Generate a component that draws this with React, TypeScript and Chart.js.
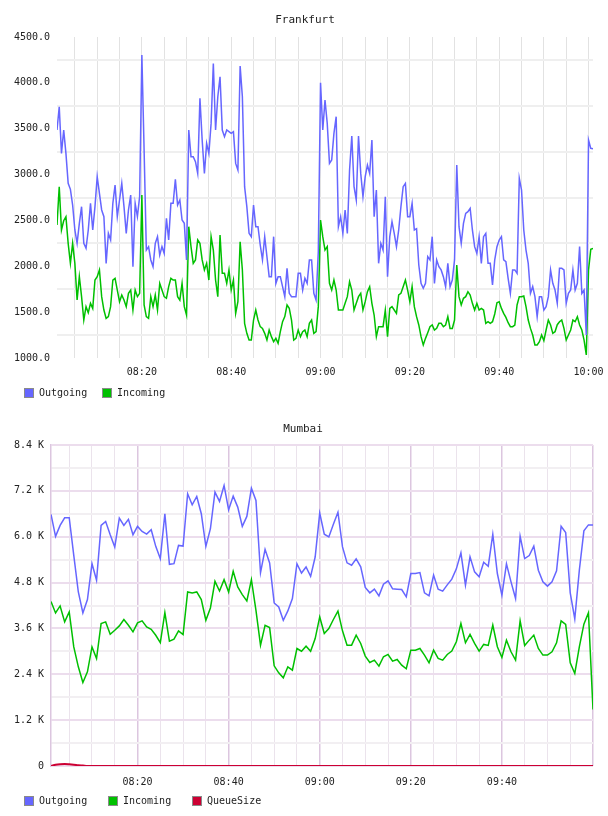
import React, { useEffect, useRef } from 'react';
import { Chart, registerables } from 'chart.js';

Chart.register(...registerables);

// Time axis is in minutes after 08:00.
const FRA_START_MIN = 1;
const FRA_STEP_MIN = 0.5;

// Frankfurt, sampled every 30 s from 08:01 to 10:01
const FRA_OUT = [
  3486, 3740, 3231, 3486, 3231, 2904, 2839, 2668, 2396, 2250,
  2468, 2650, 2250, 2196, 2396, 2686, 2396, 2650, 2977, 2795,
  2614, 2541, 2032, 2359, 2287, 2686, 2886, 2541, 2723, 2904,
  2650, 2359, 2614, 2777, 1996, 2686, 2541, 2759, 4303, 3268,
  2177, 2214, 2069, 1996, 2250, 2323, 2123, 2214, 2141, 2523,
  2287, 2686, 2686, 2948, 2668, 2723, 2505, 2468, 2069, 3486,
  3195, 3195, 3140, 3013, 3831, 3377, 3013, 3340, 3231, 3558,
  4212, 3486, 3849, 4067, 3486, 3413, 3486, 3468, 3449, 3468,
  3122, 3050, 4183, 3849, 2868, 2650, 2359, 2323, 2668, 2432,
  2432, 2232, 2069, 2323, 2105, 1887, 1887, 2323, 1814, 1887,
  1887, 1778, 1669, 1978, 1705, 1669, 1669, 1669, 1923, 1923,
  1741, 1869, 1814, 2069, 2069, 1705, 1632, 2159, 4002, 3486,
  3813, 3558, 3122, 3159, 3449, 3631, 2432, 2541, 2359, 2614,
  2359, 3050, 3420, 2868, 2723, 3420, 3013, 2759, 2977, 3104,
  3013, 3377, 2541, 2832, 2032, 2250, 2177, 2759, 1887, 2323,
  2486, 2359, 2214, 2396, 2650, 2868, 2904, 2541, 2541, 2686,
  2396, 2410, 2014, 1814, 1760, 1814, 2105, 2069, 2323, 1814,
  2069, 1996, 1960, 1887, 1778, 2032, 1778, 1850, 2069, 3104,
  2432, 2250, 2468, 2577, 2595, 2632, 2396, 2214, 2141, 2323,
  2032, 2323, 2359, 2032, 2032, 1796, 2069, 2214, 2287, 2323,
  2069, 2050, 1869, 1705, 1960, 1960, 1923, 2959, 2832, 2396,
  2177, 2032, 1705, 1778, 1669, 1451, 1669, 1669, 1523, 1560,
  1669, 1960, 1814, 1741, 1596, 1978, 1978, 1960, 1596, 1705,
  1741, 1960, 1741, 1814, 2214, 1705, 1741, 1251, 3377, 3286, 3282,
];

const FRA_IN = [
  2450, 2868, 2396, 2497, 2541, 2250, 2032, 2250, 2032, 1632,
  1887, 1669, 1414, 1560, 1494, 1596, 1541, 1850, 1887, 1960,
  1669, 1523, 1432, 1451, 1560, 1850, 1869, 1741, 1614, 1687,
  1632, 1560, 1705, 1741, 1523, 1741, 1669, 1705, 2777, 1578,
  1451, 1432, 1669, 1560, 1687, 1523, 1814, 1741, 1669, 1651,
  1778, 1869, 1850, 1850, 1669, 1632, 1814, 1560, 1469, 2432,
  2214, 2032, 2069, 2287, 2250, 2069, 1960, 2032, 1850, 2323,
  2177, 1850, 1669, 2341, 1923, 1923, 1814, 1960, 1741, 1850,
  1487, 1614, 2268, 1960, 1378, 1269, 1196, 1196, 1414, 1523,
  1414, 1342, 1323, 1269, 1196, 1305, 1233, 1178, 1214, 1160,
  1287, 1396, 1451, 1578, 1541, 1414, 1196, 1214, 1305, 1233,
  1287, 1305, 1233, 1378, 1414, 1269, 1287, 1560, 2504, 2323,
  2177, 2214, 1814, 1741, 1850, 1741, 1523, 1523, 1523, 1596,
  1669, 1832, 1741, 1523, 1596, 1669, 1705, 1523, 1614, 1723,
  1778, 1596, 1469, 1233, 1342, 1342, 1342, 1523, 1233, 1541,
  1560, 1523, 1487, 1687, 1705, 1778, 1850, 1741, 1614, 1778,
  1560, 1451, 1360, 1233, 1142, 1214, 1276, 1342, 1360, 1305,
  1323, 1378, 1378, 1342, 1360, 1451, 1323, 1323, 1414, 2014,
  1669, 1578, 1651, 1669, 1723, 1687, 1596, 1523, 1596, 1523,
  1541, 1523, 1378, 1396, 1378, 1396, 1480, 1603, 1614, 1541,
  1487, 1443, 1385, 1342, 1342, 1360, 1578, 1669, 1669, 1676,
  1560, 1414, 1323, 1251, 1142, 1142, 1178, 1251, 1189, 1305,
  1414, 1360, 1269, 1287, 1363, 1396, 1414, 1323, 1196, 1251,
  1305, 1414, 1396, 1451, 1360, 1305, 1196, 1033, 1960, 2185, 2196,
];

// Mumbai, one sample per minute from 08:01 to 10:00
const MUM_START_MIN = 1;
const MUM_STEP_MIN = 1;

const MUM_OUT = [
  6583, 6009, 6296, 6496, 6496, 5512, 4554, 4006, 4354, 5294,
  4859, 6296, 6400, 6052, 5730, 6487, 6296, 6453, 6052, 6270,
  6139, 6069, 6183, 5747, 5425, 6601, 5277, 5294, 5773, 5756,
  7123, 6836, 7053, 6601, 5747, 6209, 7167, 6923, 7341, 6705,
  7062, 6775, 6270, 6531, 7271, 6949, 5059, 5669, 5312, 4267,
  4162, 3814, 4058, 4380, 5294, 5051, 5207, 4964, 5469, 6618,
  6065, 5995, 6326, 6640, 5734, 5316, 5255, 5420, 5211, 4671,
  4531, 4627, 4453, 4758, 4845, 4636, 4627, 4618, 4427, 5037,
  5037, 5063, 4531, 4453, 4993, 4627, 4575, 4740, 4889, 5159,
  5577, 4731, 5472, 5080, 4950, 5333, 5228, 6065, 5037, 4470,
  5289, 4819, 4383, 6013, 5429, 5507, 5751, 5124, 4819, 4706,
  4819, 5106, 6274, 6109, 4531, 3850, 5124, 6152, 6309, 6309,
];

const MUM_IN = [
  4302, 4006, 4189, 3771, 4032, 3117, 2595, 2186, 2464, 3117,
  2813, 3727, 3771, 3448, 3553, 3666, 3832, 3683, 3509, 3744,
  3797, 3640, 3579, 3422, 3231, 4014, 3266, 3318, 3535, 3440,
  4554, 4528, 4554, 4354, 3814, 4136, 4833, 4580, 4876, 4554,
  5094, 4685, 4485, 4319, 4876, 4075, 3161, 3683, 3623, 2621,
  2438, 2308, 2595, 2508, 3074, 3004, 3135, 3004, 3335, 3901,
  3468, 3599, 3834, 4052, 3538, 3163, 3163, 3425, 3207, 2876,
  2710, 2771, 2614, 2858, 2919, 2745, 2788, 2640, 2544, 3032,
  3032, 3076, 2902, 2701, 3032, 2815, 2771, 2919, 3006, 3250,
  3730, 3224, 3442, 3207, 3006, 3181, 3154, 3686, 3120, 2841,
  3294, 2989, 2771, 3799, 3154, 3294, 3425, 3076, 2902, 2902,
  2989, 3224, 3799, 3704, 2701, 2422, 3120, 3712, 4008, 1481,
];

const MUM_QUEUE = [
  0, 30, 45, 50, 45, 35, 20, 10, 0, 0,
  0, 0, 0, 0, 0, 0, 0, 0, 0, 0,
  0, 0, 0, 0, 0, 0, 0, 0, 0, 0,
  0, 0, 0, 0, 0, 0, 0, 0, 0, 0,
  0, 0, 0, 0, 0, 0, 0, 0, 0, 0,
  0, 0, 0, 0, 0, 0, 0, 0, 0, 0,
  0, 0, 0, 0, 0, 0, 0, 0, 0, 0,
  0, 0, 0, 0, 0, 0, 0, 0, 0, 0,
  0, 0, 0, 0, 0, 0, 0, 0, 0, 0,
  0, 0, 0, 0, 0, 0, 0, 0, 0, 0,
  0, 0, 0, 0, 0, 0, 0, 0, 0, 0,
  0, 0, 0, 0, 0, 0, 0, 0, 0, 0,
];

// Axis ticks
const GRID_MINUTES = [5, 10, 15, 20, 25, 30, 35, 40, 45, 50, 55, 60, 65, 70, 75, 80, 85, 90, 95, 100, 105, 110, 115, 120];
const FRA_X_LABELS = ['08:20', '08:40', '09:00', '09:20', '09:40', '10:00'];
const MUM_X_LABELS = ['08:20', '08:40', '09:00', '09:20', '09:40'];
const FRA_Y_TICKS = [1000, 1250, 1500, 1750, 2000, 2250, 2500, 2750, 3000, 3250, 3500, 3750, 4000, 4250, 4500];
const MUM_Y_TICKS = [0, 600, 1200, 1800, 2400, 3000, 3600, 4200, 4800, 5400, 6000, 6600, 7200, 7800, 8400];

const MONO = '"DejaVu Sans Mono", "Liberation Mono", monospace';
const TEXT = '#222222';
const BLUE = '#6666ff';
const GREEN = '#00c000';
const RED = '#cc0033';

function clock(min: number): string {
  const h = 8 + Math.floor(min / 60);
  const m = Math.round(min % 60);
  return `${String(h).padStart(2, '0')}:${String(m).padStart(2, '0')}`;
}

function toPoints(values: number[], start: number, step: number) {
  return values.map((y, i) => ({ x: start + i * step, y }));
}

// Draws the chart heading and a left-aligned legend strip.
const headerLegend = {
  id: 'headerLegend',
  afterDraw(chart: any, _args: any, opts: any) {
    const ctx = chart.ctx;
    ctx.save();
    ctx.fillStyle = TEXT;
    ctx.font = `11px ${MONO}`;
    ctx.textAlign = 'center';
    ctx.textBaseline = 'middle';
    ctx.fillText(opts.title, opts.titleX, opts.titleY);
    ctx.font = `10px ${MONO}`;
    ctx.textAlign = 'left';
    opts.boxX.forEach((x: number, i: number) => {
      const ds = chart.data.datasets[i];
      const y = opts.boxY;
      ctx.fillStyle = ds.borderColor;
      ctx.fillRect(x, y, 10, 10);
      ctx.strokeStyle = '#8a8a8a';
      ctx.lineWidth = 1;
      ctx.strokeRect(x + 0.5, y + 0.5, 9, 9);
      ctx.fillStyle = TEXT;
      ctx.fillText(ds.label, x + 15, y + 5);
    });
    ctx.restore();
  },
};

function line(label: string, data: any[], color: string, extra: any = {}) {
  return {
    label,
    data,
    borderColor: color,
    backgroundColor: color,
    borderWidth: 1.5,
    pointRadius: 0,
    tension: 0,
    fill: false,
    ...extra,
  };
}

const tickFont = { family: MONO, size: 10 };

function frankfurtConfig(): any {
  return {
    type: 'line',
    data: {
      datasets: [
        line('Outgoing', toPoints(FRA_OUT, FRA_START_MIN, FRA_STEP_MIN), BLUE),
        line('Incoming', toPoints(FRA_IN, FRA_START_MIN, FRA_STEP_MIN), GREEN),
      ],
    },
    options: {
      responsive: false,
      animation: false,
      devicePixelRatio: 1,
      layout: { autoPadding: false, padding: { top: 37, right: 15, bottom: 0, left: 0 } },
      plugins: {
        legend: { display: false },
        title: { display: false },
        tooltip: { enabled: false },
        headerLegend: { title: 'Frankfurt', titleX: 305, titleY: 20, boxX: [24, 102], boxY: 388 },
      },
      scales: {
        x: {
          type: 'linear',
          min: 1,
          max: 121,
          afterBuildTicks: (s: any) => { s.ticks = GRID_MINUTES.map((v) => ({ value: v })); },
          afterFit: (s: any) => { s.height = 47; s.paddingLeft = 0; s.paddingRight = 0; },
          grid: { color: '#e2e2e2', lineWidth: 1, drawTicks: false },
          border: { display: false },
          ticks: {
            autoSkip: false,
            maxRotation: 0,
            padding: 8,
            font: tickFont,
            color: TEXT,
            callback: (v: number) => (FRA_X_LABELS.includes(clock(v)) ? clock(v) : ''),
          },
        },
        y: {
          type: 'linear',
          min: 1000,
          max: 4500,
          afterBuildTicks: (s: any) => { s.ticks = FRA_Y_TICKS.map((v) => ({ value: v })); },
          afterFit: (s: any) => { s.width = 57; s.paddingTop = 0; s.paddingBottom = 0; },
          grid: {
            color: (c: any) => (c.tick && c.tick.value % 500 === 0 ? 'rgba(0,0,0,0)' : '#efefef'),
            lineWidth: 2,
            drawTicks: false,
          },
          border: { display: false },
          ticks: {
            padding: 7,
            font: tickFont,
            color: TEXT,
            callback: (v: number) => (v % 500 === 0 ? v.toFixed(1) : ''),
          },
        },
      },
    },
    plugins: [headerLegend],
  };
}

function mumbaiConfig(): any {
  return {
    type: 'line',
    data: {
      datasets: [
        line('Outgoing', toPoints(MUM_OUT, MUM_START_MIN, MUM_STEP_MIN), BLUE),
        line('Incoming', toPoints(MUM_IN, MUM_START_MIN, MUM_STEP_MIN), GREEN),
        line('QueueSize', toPoints(MUM_QUEUE, MUM_START_MIN, MUM_STEP_MIN), RED, { borderWidth: 2, tension: 0.4, order: -1 }),
      ],
    },
    options: {
      responsive: false,
      animation: false,
      devicePixelRatio: 1,
      layout: { autoPadding: false, padding: { top: 40, right: 15, bottom: 0, left: 0 } },
      plugins: {
        legend: { display: false },
        title: { display: false },
        tooltip: { enabled: false },
        headerLegend: { title: 'Mumbai', titleX: 303, titleY: 24, boxX: [24, 108, 192], boxY: 391 },
      },
      scales: {
        x: {
          type: 'linear',
          min: 1,
          max: 120,
          afterBuildTicks: (s: any) => { s.ticks = GRID_MINUTES.map((v) => ({ value: v })); },
          afterFit: (s: any) => { s.height = 50; s.paddingLeft = 0; s.paddingRight = 0; },
          grid: {
            color: (c: any) => (c.tick && c.tick.value % 20 === 0 ? '#dcc6df' : '#ebe3ec'),
            lineWidth: (c: any) => (c.tick && c.tick.value % 20 === 0 ? 1.5 : 1),
            drawTicks: false,
          },
          border: { display: false },
          ticks: {
            autoSkip: false,
            maxRotation: 0,
            padding: 10,
            font: tickFont,
            color: TEXT,
            callback: (v: number) => (MUM_X_LABELS.includes(clock(v)) ? clock(v) : ''),
          },
        },
        y: {
          type: 'linear',
          min: 0,
          max: 8400,
          afterBuildTicks: (s: any) => { s.ticks = MUM_Y_TICKS.map((v) => ({ value: v })); },
          afterFit: (s: any) => { s.width = 51; s.paddingTop = 0; s.paddingBottom = 0; },
          grid: {
            color: (c: any) => (c.tick && c.tick.value % 1200 === 0 ? '#ecdded' : '#f2eff2'),
            lineWidth: 2,
            drawTicks: false,
          },
          border: { display: true, color: '#dcc6df', width: 1.5 },
          ticks: {
            padding: 7,
            font: tickFont,
            color: TEXT,
            callback: (v: number) => (v % 1200 === 0 ? (v === 0 ? '0' : `${(v / 1000).toFixed(1)} K`) : ''),
          },
        },
      },
    },
    plugins: [headerLegend],
  };
}

function ChartCanvas({ makeConfig, top, height }: { makeConfig: () => any; top: number; height: number }) {
  const ref = useRef<HTMLCanvasElement | null>(null);
  useEffect(() => {
    if (!ref.current) return;
    const chart = new Chart(ref.current, makeConfig());
    return () => chart.destroy();
  }, [makeConfig]);
  return (
    <canvas
      ref={ref}
      width={608}
      height={height}
      style={{ position: 'absolute', left: 0, top, width: 608, height, display: 'block' }}
    />
  );
}

export default function App() {
  return (
    <div style={{ position: 'absolute', left: 0, top: 0, width: 608, height: 816, background: '#ffffff' }}>
      <ChartCanvas makeConfig={frankfurtConfig} top={0} height={405} />
      <ChartCanvas makeConfig={mumbaiConfig} top={405} height={411} />
    </div>
  );
}
